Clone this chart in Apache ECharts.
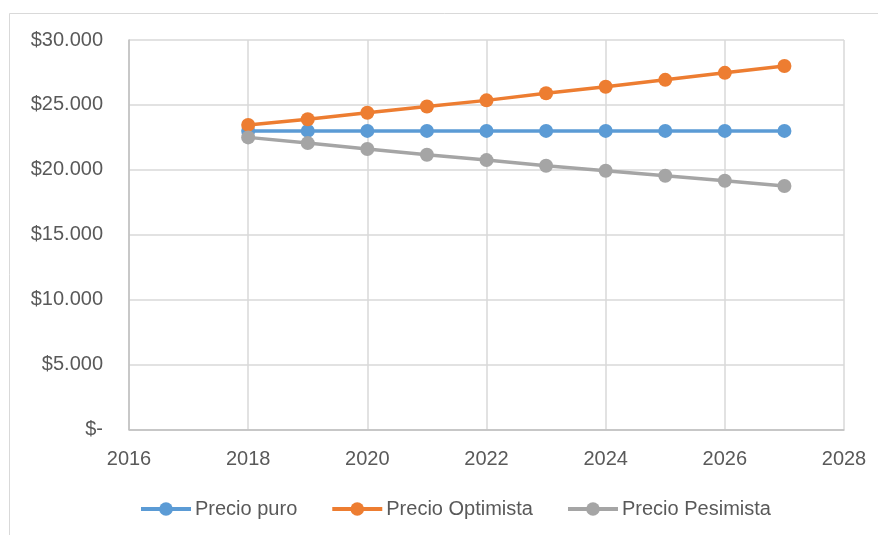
<!DOCTYPE html>
<html>
<head>
<meta charset="utf-8">
<script src="https://cdn.jsdelivr.net/npm/echarts@6/dist/echarts.min.js"></script>
<style>
  html, body { margin: 0; padding: 0; background: #fff; }
  #chart { width: 878px; height: 535px; }
</style>
</head>
<body>
<div id="chart"></div>
<script>
// Years and price scenarios
const years = [2018, 2019, 2020, 2021, 2022, 2023, 2024, 2025, 2026, 2027];
const precioPuro = [23000, 23000, 23000, 23000, 23000, 23000, 23000, 23000, 23000, 23000];
const precioOptimista = [23460, 23900, 24400, 24880, 25350, 25900, 26400, 26930, 27470, 28000];
const precioPesimista = [22500, 22060, 21600, 21160, 20750, 20320, 19930, 19540, 19160, 18750];
const seriesNames = ['Precio puro', 'Precio Optimista', 'Precio Pesimista'];
const seriesColors = ['#5B9BD5', '#ED7D31', '#A5A5A5'];

const pairs = arr => years.map((y, i) => [y, arr[i]]);

function money(v) {
  if (v === 0) return '$-';
  return '$' + String(v).replace(/\B(?=(\d{3})+(?!\d))/g, '.');
}

const FONT = '"Liberation Sans", Arial, sans-serif';
const chart = echarts.init(document.getElementById('chart'), null, { renderer: 'canvas' });

chart.setOption({
  animation: false,
  backgroundColor: '#fff',
  graphic: [{
    type: 'rect',
    shape: { x: 9.5, y: 13.5, width: 1000, height: 1000 },
    style: { fill: 'none', stroke: '#d9d9d9', lineWidth: 1 },
    silent: true
  }],
  grid: { left: 129, right: 34, top: 40, bottom: 105.5, containLabel: false },
  xAxis: {
    type: 'value',
    min: 2016, max: 2028, interval: 2,
    axisLine: { show: true, lineStyle: { color: '#bfbfbf', width: 1.5 } },
    axisTick: { show: false },
    axisLabel: { color: '#595959', fontSize: 20, fontFamily: FONT, margin: 20, formatter: v => String(v) },
    splitLine: { show: true, lineStyle: { color: '#d9d9d9', width: 1.5 } }
  },
  yAxis: {
    type: 'value',
    min: 0, max: 30000, interval: 5000,
    axisLine: { show: true, lineStyle: { color: '#bfbfbf', width: 1.5 } },
    axisTick: { show: false },
    axisLabel: { color: '#595959', fontSize: 20, fontFamily: FONT, margin: 26, formatter: money },
    splitLine: { show: true, lineStyle: { color: '#d9d9d9', width: 1.5 } }
  },
  legend: {
    left: 134, top: 494,
    itemWidth: 50, itemHeight: 17, itemGap: 33,
    lineStyle: { width: 4 },
    textStyle: { color: '#595959', fontSize: 20, fontFamily: FONT, padding: [0, 0, 0, -1] },
    data: seriesNames
  },
  series: [precioPuro, precioOptimista, precioPesimista].map((arr, i) => ({
    name: seriesNames[i],
    type: 'line',
    data: pairs(arr),
    color: seriesColors[i],
    symbol: 'circle',
    symbolSize: 14,
    showSymbol: true,
    lineStyle: { width: 3.5, color: seriesColors[i] },
    itemStyle: { color: seriesColors[i] }
  }))
});
</script>
</body>
</html>
